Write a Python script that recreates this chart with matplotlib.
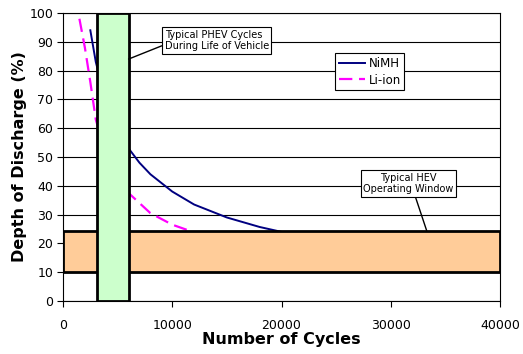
import matplotlib
matplotlib.use("Agg")
import matplotlib.pyplot as plt
import matplotlib.patches as mpatches

# ── Данные ───────────────────────────────────────────────────────────────────
nimh_x = [2500, 3000, 4000, 5000, 6000, 7000, 8000, 9000, 10000, 12000, 15000, 18000, 20000, 25000, 30000, 40000]
nimh_y = [94, 83, 68, 59, 53, 48, 44, 41, 38, 33.5, 29, 25.7, 24, 21, 19, 16]

liion_x = [1500, 2000, 2500, 3000, 4000, 5000, 6000, 8000, 10000, 11500, 15000, 20000, 30000, 40000]
liion_y = [98, 88, 76, 63, 50, 42, 37.5, 30.5, 26.5, 24.5, 20, 16, 12, 10]

phev_window = (3100, 6000, 0, 100)    # x0, x1, y0, y1
hev_window = (0, 40000, 10, 24.3)

x_ticks = [0, 10000, 20000, 30000, 40000]
y_ticks = list(range(0, 101, 10))

# ── График ───────────────────────────────────────────────────────────────────
fig = plt.figure(figsize=(5.23, 3.54), dpi=100)
ax = fig.add_axes([0.1205, 0.1497, 0.8355, 0.8136])

for y in y_ticks:
    ax.axhline(y, color="black", lw=0.8, zorder=1)

ax.plot(nimh_x, nimh_y, color="#000080", lw=1.4, label="NiMH", zorder=2)
ax.plot(liion_x, liion_y, color="#FF00FF", lw=1.6, dashes=(6, 3), label="Li-ion", zorder=2)

# окна работы: оранжевое (HEV) и зелёное (PHEV) поверх кривых
x0, x1, y0, y1 = hev_window
ax.add_patch(mpatches.Rectangle((x0, y0), x1 - x0, y1 - y0, facecolor="#FFCC99",
                                edgecolor="black", lw=2, zorder=3))
x0, x1, y0, y1 = phev_window
ax.add_patch(mpatches.Rectangle((x0, y0), x1 - x0, y1 - y0, facecolor="#CCFFCC",
                                edgecolor="black", lw=2, zorder=4))

box = dict(boxstyle="square,pad=0.25", fc="white", ec="black", lw=0.8)
ax.annotate("Typical PHEV Cycles\nDuring Life of Vehicle", xy=(6000, 84), xytext=(9300, 90.5),
            fontsize=7, ha="left", va="center", bbox=box, zorder=6,
            arrowprops=dict(arrowstyle="-", color="black", lw=1, shrinkA=0, shrinkB=0,
                            relpos=(0, 0.3)))
ax.annotate("Typical HEV\nOperating Window", xy=(33300, 24.3), xytext=(31600, 40.8),
            fontsize=7, ha="center", va="center", bbox=box, zorder=6,
            arrowprops=dict(arrowstyle="-", color="black", lw=1, shrinkA=0, shrinkB=0,
                            relpos=(0.57, 0)))

leg = ax.legend(loc="upper left", bbox_to_anchor=(0.61, 0.88), fontsize=8.5,
                frameon=True, fancybox=False, edgecolor="black", framealpha=1,
                borderpad=0.3, handlelength=2.2, handletextpad=0.3, labelspacing=0.3)
leg.get_frame().set_linewidth(0.8)
leg.set_zorder(7)

ax.set_xlim(0, 40000)
ax.set_ylim(0, 100)
ax.set_xticks(x_ticks)
ax.set_yticks(y_ticks)
ax.tick_params(labelsize=9, direction="out", length=4, width=0.8, pad=9)
ax.tick_params(axis="y", pad=3)
for s in ax.spines.values():
    s.set_linewidth(0.8)

ax.set_xlabel("Number of Cycles", fontsize=11.5, fontweight="bold", labelpad=0)
ax.set_ylabel("Depth of Discharge (%)", fontsize=11.5, fontweight="bold", labelpad=2)

plt.savefig("out.png", dpi=100)
